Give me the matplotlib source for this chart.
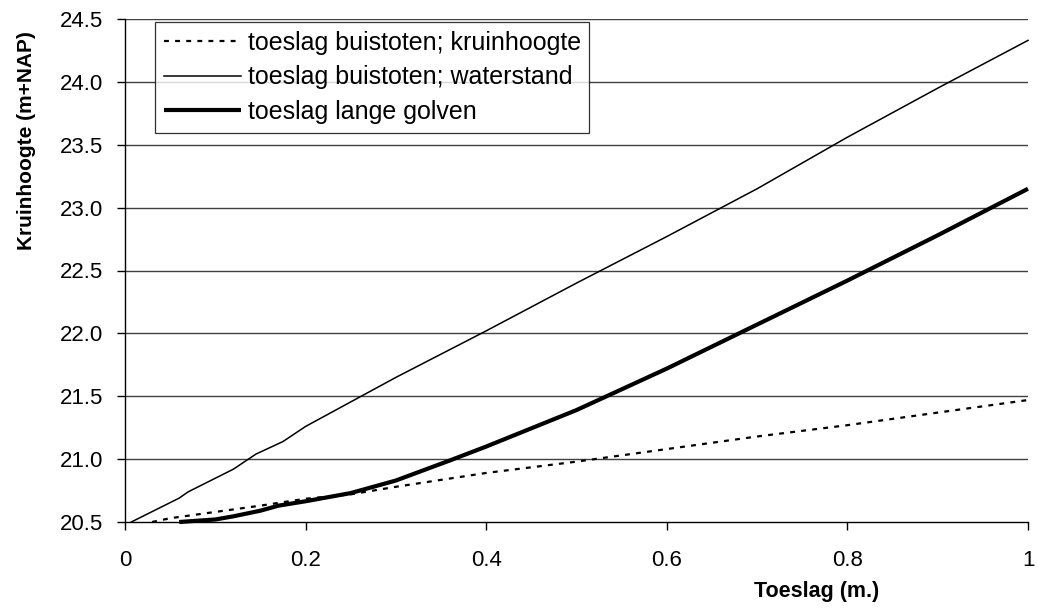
import matplotlib
matplotlib.use("Agg")
import matplotlib.pyplot as plt

plt.rcParams['font.family'] = ['Liberation Sans', 'DejaVu Sans']

# Data
x_kruin = [0.03, 0.05, 0.10, 0.15, 0.20, 0.25, 0.30, 0.40, 0.50, 0.60, 0.70, 0.80, 0.90, 1.00]
y_kruin = [20.50, 20.53, 20.58, 20.63, 20.685, 20.72, 20.78, 20.89, 20.98, 21.08, 21.18, 21.27, 21.37, 21.47]

x_water = [0.007, 0.06, 0.07, 0.12, 0.145, 0.175, 0.20, 0.30, 0.40, 0.50, 0.60, 0.70, 0.80, 0.90, 1.00]
y_water = [20.50, 20.69, 20.74, 20.92, 21.04, 21.14, 21.26, 21.65, 22.02, 22.40, 22.77, 23.15, 23.56, 23.95, 24.33]

x_lang = [0.06, 0.10, 0.12, 0.15, 0.17, 0.20, 0.25, 0.30, 0.36, 0.40, 0.50, 0.60, 0.70, 0.80, 0.90, 1.00]
y_lang = [20.50, 20.52, 20.545, 20.59, 20.63, 20.665, 20.73, 20.83, 20.99, 21.10, 21.39, 21.72, 22.07, 22.42, 22.78, 23.15]

labels = ["toeslag buistoten; kruinhoogte", "toeslag buistoten; waterstand", "toeslag lange golven"]
x_ticks = [0, 0.2, 0.4, 0.6, 0.8, 1]
x_ticklabels = ["0", "0.2", "0.4", "0.6", "0.8", "1"]
y_ticks = [20.5, 21.0, 21.5, 22.0, 22.5, 23.0, 23.5, 24.0, 24.5]

W, H = 1037, 610
fig = plt.figure(figsize=(W / 100, H / 100), dpi=100)
L, R, T, B = 125, 1028, 19, 522
ax = fig.add_axes([L / W, 1 - B / H, (R - L) / W, (B - T) / H])

ax.set_xlim(0, 1)
ax.set_ylim(20.5, 24.5)

for yv in y_ticks[1:]:
    ax.axhline(yv, color='#404040', lw=1.0, zorder=1)

ax.plot(x_kruin, y_kruin, color='black', lw=1.6, linestyle=(0, (2.2, 2.8)), label=labels[0], zorder=3, clip_on=False)
ax.plot(x_water, y_water, color='black', lw=1.1, label=labels[1], zorder=3, clip_on=False)
ax.plot(x_lang, y_lang, color='black', lw=3.0, label=labels[2], zorder=3, clip_on=False, solid_capstyle='butt')

ax.set_xticks(x_ticks)
ax.set_xticklabels(x_ticklabels)
ax.set_yticks(y_ticks)
ax.set_yticklabels([f"{v:.1f}" for v in y_ticks])

for s in ['top', 'right']:
    ax.spines[s].set_visible(False)
for s in ['left', 'bottom']:
    ax.spines[s].set_linewidth(1.0)
    ax.spines[s].set_color('black')

ax.tick_params(axis='y', direction='out', length=6, width=1, pad=10, labelsize=16)
ax.tick_params(axis='x', direction='out', length=5.5, width=1, pad=15, labelsize=16)

leg = ax.legend(loc='upper left', bbox_to_anchor=((155 - L) / (R - L), (B - 22) / (B - T)),
                borderaxespad=0, fontsize=18, frameon=True, fancybox=False,
                edgecolor='black', handlelength=3.1, handletextpad=0.25,
                labelspacing=0.42, borderpad=0.35)
leg.get_frame().set_linewidth(0.9)
leg.set_zorder(5)

fig.text(817 / W, 1 - 592 / H, "Toeslag (m.)", ha='center', va='center', fontsize=15.5, fontweight='bold')
fig.text(27 / W, 1 - 141 / H, "Kruinhoogte (m+NAP)", ha='center', va='center', rotation=90,
         fontsize=15, fontweight='bold')

fig.savefig("out.png", dpi=100, facecolor='white')
